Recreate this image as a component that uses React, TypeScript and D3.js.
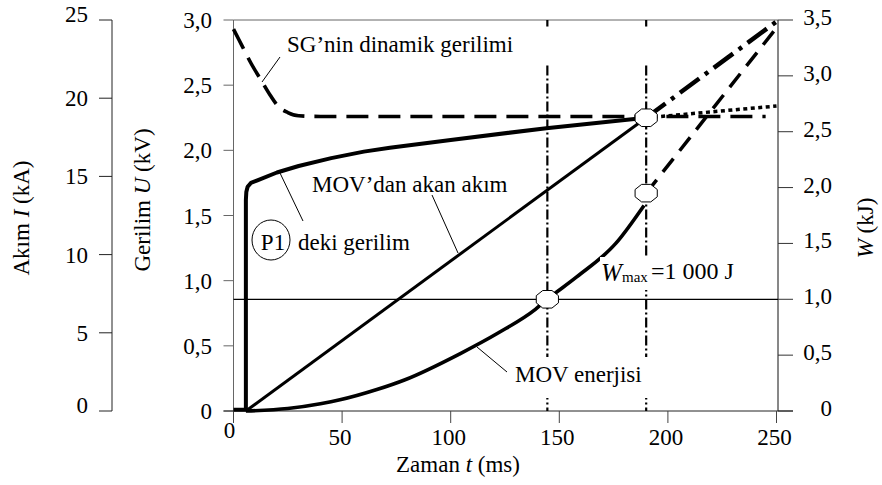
import React from "react";
import * as d3 from "d3";

// ---------- tick values / labels ----------
const xTickValues = [0, 50, 100, 150, 200, 250];
const xTickLabels = ["0", "50", "100", "150", "200", "250"];
const uTickValues = [0, 0.5, 1, 1.5, 2, 2.5, 3];
const uTickLabels = ["0", "0,5", "1,0", "1,5", "2,0", "2,5", "3,0"];
const iTickValues = [0, 5, 10, 15, 20, 25];
const iTickLabels = ["0", "5", "10", "15", "20", "25"];
const wTickValues = [0, 0.5, 1, 1.5, 2, 2.5, 3, 3.5];
const wTickLabels = ["0", "0,5", "1,0", "1,5", "2,0", "2,5", "3,0", "3,5"];

// ---------- series (t in ms) ----------
// SG dynamic voltage (kV)
const sgTime = [0, 4, 8, 13, 17, 21, 25, 30, 40, 120, 245];
const sgVoltage = [2.93, 2.8, 2.67, 2.53, 2.42, 2.33, 2.29, 2.265, 2.26, 2.26, 2.26];

// Voltage at P1 (kV)
const p1Time = [0, 5.7, 5.7, 5.9, 6.5, 8, 11, 20, 30, 45, 60, 72, 100, 144, 190];
const p1Voltage = [0.01, 0.01, 1.62, 1.68, 1.72, 1.75, 1.77, 1.83, 1.88, 1.94, 1.99, 2.02, 2.08, 2.17, 2.25];
const p1ExtTime = [190, 250];
const p1ExtVoltage = [2.25, 2.34];

// Current through MOV (kA)
const curTime = [5.7, 190];
const curValue = [0, 18.75];
const curExtTime = [190, 250];
const curExtValue = [18.75, 24.9];

// MOV energy (kJ)
const enTime = [5.7, 25, 40, 49, 66, 79, 104, 122, 139, 144.5, 158, 176, 189];
const enValue = [0, 0.022, 0.065, 0.1, 0.192, 0.28, 0.51, 0.7, 0.91, 1.0, 1.2, 1.5, 1.84];
const enExtTime = [190, 250];
const enExtValue = [1.95, 3.43];

const wMax = 1.0;
const cutTimes = [144.5, 190];

const FONT = "Liberation Serif";

function octagon(cx: number, cy: number, rx = 12, ry = 9.5) {
  const pts: [number, number][] = [];
  for (let k = 0; k < 8; k++) {
    const a = Math.PI / 8 + (k * Math.PI) / 4;
    pts.push([cx + rx * Math.cos(a), cy + ry * Math.sin(a)]);
  }
  return "M" + pts.map((p) => p.join(",")).join("L") + "Z";
}

export default function App() {
  const W = 882;
  const H = 485;
  const x = d3.scaleLinear().domain([0, 250]).range([233.5, 776.5]);
  const yU = d3.scaleLinear().domain([0, 3]).range([411, 20]);
  const yI = d3.scaleLinear().domain([0, 25]).range([411, 20]);
  const yW = d3.scaleLinear().domain([0, 3.5]).range([411, 20]);

  const plotLeft = 233.5;
  const plotRight = 778;
  const plotTop = 20;
  const plotBottom = 411;
  const iAxisX = 112;

  const mk = (ts: number[], vs: number[], ys: any, curve: any = d3.curveLinear) =>
    d3
      .line<number>()
      .x((_, i) => x(ts[i]))
      .y((v) => ys(v))
      .curve(curve)(vs) as string;

  const sgPath = mk(sgTime, sgVoltage, yU, d3.curveMonotoneX);
  const p1Path = mk(p1Time, p1Voltage, yU);
  const p1ExtPath = mk(p1ExtTime, p1ExtVoltage, yU);
  const curPath = mk(curTime, curValue, yI);
  const curExtPath = mk(curExtTime, curExtValue, yI);
  const enPath = mk(enTime, enValue, yW, d3.curveMonotoneX);
  const enExtPath = mk(enExtTime, enExtValue, yW);

  const markers = [
    { cx: x(cutTimes[0]), cy: yW(wMax) },
    { cx: x(cutTimes[1]), cy: yU(p1Voltage[p1Voltage.length - 1]) },
    { cx: x(cutTimes[1]), cy: yW(enExtValue[0]) },
  ];

  const fs = 23;

  return (
    <div style={{ position: "absolute", left: 0, top: 0, background: "#fff" }}>
      <svg
        width={W}
        height={H}
        viewBox={`0 0 ${W} ${H}`}
        style={{ display: "block", fontFamily: FONT }}
        fontFamily={FONT}
        fontSize={fs}
      >
        <rect x={0} y={0} width={W} height={H} fill="#fff" />

        {/* ---------- current axis (far left) ---------- */}
        <line x1={iAxisX} x2={iAxisX} y1={yI(25)} y2={yI(0)} stroke="#222" strokeWidth={1} />
        {iTickValues.map((v, i) => (
          <g key={"it" + i}>
            <line x1={iAxisX - 13} x2={iAxisX} y1={yI(v)} y2={yI(v)} stroke="#222" />
            <text
              x={88}
              y={yI(v) + (i === 0 || i === iTickValues.length - 1 ? 2 : 8)}
              textAnchor="end"
              fontFamily={FONT}
              fontSize={fs}
            >
              {iTickLabels[i]}
            </text>
          </g>
        ))}
        <text transform={`translate(29,218) rotate(-90)`} textAnchor="middle" fontFamily={FONT} fontSize={fs}>
          Akım <tspan fontStyle="italic">I</tspan> (kA)
        </text>

        {/* ---------- voltage axis ---------- */}
        <line x1={plotLeft} x2={plotLeft} y1={plotTop} y2={plotBottom} stroke="#666" strokeWidth={1} />
        {uTickValues.map((v, i) => (
          <g key={"ut" + i}>
            <line x1={plotLeft - 10} x2={plotLeft} y1={yU(v)} y2={yU(v)} stroke="#666" />
            <text x={212} y={yU(v) + 8} textAnchor="end" fontFamily={FONT} fontSize={fs}>
              {uTickLabels[i]}
            </text>
          </g>
        ))}
        <text transform={`translate(150,200) rotate(-90)`} textAnchor="middle" fontFamily={FONT} fontSize={fs}>
          Gerilim <tspan fontStyle="italic">U</tspan> (kV)
        </text>

        {/* top frame */}
        <line x1={plotLeft} x2={plotRight} y1={plotTop} y2={plotTop} stroke="#666" strokeWidth={1} />

        {/* ---------- energy axis (right) ---------- */}
        <line x1={plotRight} x2={plotRight} y1={plotTop} y2={plotBottom} stroke="#111" strokeWidth={1} />
        {wTickValues.map((v, i) => (
          <g key={"wt" + i}>
            <line x1={plotRight} x2={plotRight + 15} y1={yW(v)} y2={yW(v)} stroke="#333" />
            <text x={832} y={yW(v) + 5} textAnchor="end" fontFamily={FONT} fontSize={fs}>
              {wTickLabels[i]}
            </text>
          </g>
        ))}
        <text transform={`translate(873,228) rotate(-90)`} textAnchor="middle" fontFamily={FONT} fontSize={fs}>
          <tspan fontStyle="italic">W</tspan> (kJ)
        </text>

        {/* ---------- time axis ---------- */}
        <line x1={plotLeft - 10} x2={plotRight + 15} y1={plotBottom} y2={plotBottom} stroke="#222" strokeWidth={1} />
        {xTickValues.map((v, i) => (
          <g key={"xt" + i}>
            <line x1={x(v)} x2={x(v)} y1={plotBottom} y2={plotBottom + 12} stroke="#444" />
            <text
              x={x(v) - (i === 0 ? 4 : 2)}
              y={i === 0 ? 438 : 445}
              textAnchor="middle"
              fontFamily={FONT}
              fontSize={fs}
            >
              {xTickLabels[i]}
            </text>
          </g>
        ))}
        <text x={458} y={472} textAnchor="middle" fontFamily={FONT} fontSize={fs}>
          Zaman  <tspan fontStyle="italic">t</tspan> (ms)
        </text>

        {/* ---------- W max line ---------- */}
        <line x1={plotLeft} x2={plotRight} y1={yW(wMax)} y2={yW(wMax)} stroke="#000" strokeWidth={1.2} />

        {/* ---------- vertical cut lines ---------- */}
        {cutTimes.map((t, i) => (
          <g key={"cut" + i}>
            <line x1={x(t)} x2={x(t)} y1={yU(3)} y2={yU(2.95)} stroke="#000" strokeWidth={2.2} />
            <line
              x1={x(t)}
              x2={x(t)}
              y1={yU(2.65)}
              y2={yU(0)}
              stroke="#000"
              strokeWidth={2.2}
              strokeDasharray="10,3,2,3"
            />
          </g>
        ))}

        {/* ---------- curves ---------- */}
        <path d={sgPath} fill="none" stroke="#000" strokeWidth={3.6} strokeDasharray="22,10" />
        <path d={p1Path} fill="none" stroke="#000" strokeWidth={4} strokeLinejoin="round" />
        <path d={curPath} fill="none" stroke="#000" strokeWidth={3} />
        <path d={enPath} fill="none" stroke="#000" strokeWidth={3.6} />

        {/* continuations */}
        <path d={p1ExtPath} fill="none" stroke="#000" strokeWidth={3.5} strokeDasharray="4,3.5" />
        <path d={curExtPath} fill="none" stroke="#000" strokeWidth={4.5} strokeDasharray="24,7,4,7" />
        <path d={enExtPath} fill="none" stroke="#000" strokeWidth={3.5} strokeDasharray="17,10" />

        {/* markers */}
        {markers.map((m, i) => (
          <path key={"m" + i} d={octagon(m.cx, m.cy)} fill="#fff" stroke="#000" strokeWidth={1} />
        ))}

        {/* ---------- annotations ---------- */}
        <text x={287} y={52} fontFamily={FONT} fontSize={fs}>SG’nin dinamik gerilimi</text>
        <line x1={280} y1={57} x2={262} y2={82} stroke="#000" strokeWidth={1} />

        <text x={312} y={192} fontFamily={FONT} fontSize={fs}>MOV’dan akan akım</text>
        <line x1={432} y1={195} x2={458} y2={253} stroke="#000" strokeWidth={1} />

        <line x1={280} y1={173} x2={303} y2={221} stroke="#000" strokeWidth={1} />
        <ellipse cx={271} cy={240} rx={19} ry={20} fill="#fff" stroke="#000" strokeWidth={1} />
        <text x={273} y={250} textAnchor="middle" fontFamily={FONT} fontSize={fs}>P1</text>
        <text x={298} y={250} fontFamily={FONT} fontSize={fs}>deki gerilim</text>

        <rect x={511} y={357} width={141} height={41} fill="#fff" />
        <text x={515} y={382} fontFamily={FONT} fontSize={fs}>MOV enerjisi</text>
        <line x1={477} y1={347} x2={507} y2={372} stroke="#000" strokeWidth={1} />

        <rect x={600} y={257} width={140} height={33} fill="#fff" />
        <text x={601} y={281} fontFamily={FONT} fontSize={25} fontStyle="italic">W</text>
        <text x={622} y={282} fontFamily={FONT} fontSize={15}>max</text>
        <text x={651} y={278.5} fontFamily={FONT} fontSize={24}>=1 000 J</text>
      </svg>
    </div>
  );
}
